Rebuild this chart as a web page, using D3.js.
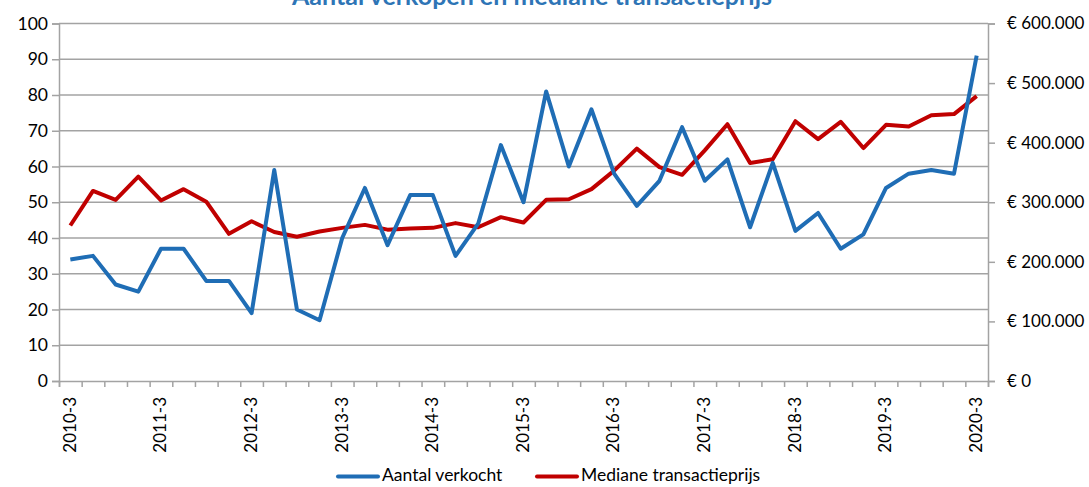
<!DOCTYPE html>
<html>
<head>
<meta charset="utf-8">
<script src="https://cdn.jsdelivr.net/npm/d3@7"></script>
<style>
  body { margin: 0; background: #fff; }
  text { font-family: Lato, "Open Sans", sans-serif; fill: #000; }
</style>
</head>
<body>
<div id="chart"></div>
<script>
// quarters
var quarters = [
  "2010-3", "2010-4", "2011-1", "2011-2",
  "2011-3", "2011-4", "2012-1", "2012-2",
  "2012-3", "2012-4", "2013-1", "2013-2",
  "2013-3", "2013-4", "2014-1", "2014-2",
  "2014-3", "2014-4", "2015-1", "2015-2",
  "2015-3", "2015-4", "2016-1", "2016-2",
  "2016-3", "2016-4", "2017-1", "2017-2",
  "2017-3", "2017-4", "2018-1", "2018-2",
  "2018-3", "2018-4", "2019-1", "2019-2",
  "2019-3", "2019-4", "2020-1", "2020-2",
  "2020-3"
];

// left axis: number of sales
var aantalVerkocht = [
  34, 35, 27, 25, 37, 37, 28, 28, 19, 59,
  20, 17, 40, 54, 38, 52, 52, 35, 44, 66,
  50, 81, 60, 76, 58, 49, 56, 71, 56, 62,
  43, 61, 42, 47, 37, 41, 54, 58, 59, 58,
  91
];

// right axis: median price (euro)
var medianePrijs = [
  261000, 319000, 304000, 343000, 303000, 322000, 301000, 247000, 268000, 250000,
  242000, 251000, 257000, 262000, 254000, 256000, 257000, 265000, 258000, 275000,
  266000, 304000, 305000, 322000, 353000, 390000, 359000, 346000, 387000, 431000,
  366000, 372000, 436000, 406000, 435000, 391000, 430000, 427000, 446000, 448000,
  478000
];

var leftTicks = [0, 10, 20, 30, 40, 50, 60, 70, 80, 90, 100];
var rightTicks = [0, 100000, 200000, 300000, 400000, 500000, 600000];
var seriesNames = ["Aantal verkocht", "Mediane transactieprijs"];
var title = "Aantal verkopen en mediane transactieprijs";

var W = 1089, H = 487;
var plotL = 59, plotR = 988, plotT = 23.5, plotB = 381;
var blue = "#1f6db5", red = "#c00000", grid = "#a3a3a3";

var svg = d3.select("#chart").append("svg")
  .attr("width", W)
  .attr("height", H);

var x = d3.scaleBand().domain(quarters).range([plotL, plotR]).padding(0);
var xEdge = d3.scaleLinear().domain([0, quarters.length]).range([plotL, plotR]);
var yL = d3.scaleLinear().domain([0, 100]).range([plotB, plotT]);
var yR = d3.scaleLinear().domain([0, 600000]).range([plotB, plotT]);

function cx(d) { return x(d) + x.bandwidth() / 2; }

// gridlines + left axis
var leftAxis = svg.append("g")
  .attr("transform", "translate(" + plotL + ",0)")
  .call(d3.axisLeft(yL).tickValues(leftTicks).tickSize(7).tickPadding(4));
leftAxis.select(".domain").attr("stroke", grid).attr("stroke-width", 1.5);
leftAxis.selectAll(".tick line").attr("stroke", grid).attr("stroke-width", 1.5);
leftAxis.selectAll(".tick text").style("font-size", "17.5px").attr("fill", "#000");

svg.append("g").selectAll("line")
  .data(leftTicks.filter(function(d) { return d > 0; }))
  .enter().append("line")
  .attr("x1", plotL).attr("x2", plotR)
  .attr("y1", function(d) { return yL(d); })
  .attr("y2", function(d) { return yL(d); })
  .attr("stroke", grid)
  .attr("stroke-width", 1.5);

// right axis
var rightAxis = svg.append("g")
  .attr("transform", "translate(" + plotR + ",0)")
  .call(d3.axisRight(yR).tickValues(rightTicks).tickSize(7).tickPadding(12)
    .tickFormat(function(d) { return "€ " + d3.format(",")(d).replace(/,/g, "."); }));
rightAxis.select(".domain").attr("stroke", grid).attr("stroke-width", 1.5);
rightAxis.selectAll(".tick line").attr("stroke", grid).attr("stroke-width", 1.5);
rightAxis.selectAll(".tick text").style("font-size", "17px").attr("fill", "#000");

// x axis with ticks between categories
var bottomAxis = svg.append("g")
  .attr("transform", "translate(0," + plotB + ")")
  .call(d3.axisBottom(xEdge).ticks(quarters.length).tickSize(6).tickFormat(""));
bottomAxis.select(".domain").attr("stroke", grid).attr("stroke-width", 1.5);
bottomAxis.selectAll(".tick line").attr("stroke", grid).attr("stroke-width", 1.5);

svg.append("g").selectAll("text")
  .data(quarters.filter(function(d, i) { return i % 4 === 0; }))
  .enter().append("text")
  .attr("transform", function(d) { return "translate(" + (cx(d) + 1) + "," + (plotB + 16) + ") rotate(-90)"; })
  .attr("text-anchor", "end")
  .attr("dominant-baseline", "middle")
  .style("font-size", "17px")
  .text(function(d) { return d; });

// lines
var lineL = d3.line()
  .x(function(d, i) { return cx(quarters[i]); })
  .y(function(d) { return yL(d); });
var lineR = d3.line()
  .x(function(d, i) { return cx(quarters[i]); })
  .y(function(d) { return yR(d); });

svg.append("path")
  .datum(medianePrijs)
  .attr("d", lineR)
  .attr("fill", "none")
  .attr("stroke", red)
  .attr("stroke-width", 4)
  .attr("stroke-linejoin", "round");

svg.append("path")
  .datum(aantalVerkocht)
  .attr("d", lineL)
  .attr("fill", "none")
  .attr("stroke", blue)
  .attr("stroke-width", 4)
  .attr("stroke-linejoin", "round");

// title (partly cut at top like the original)
svg.append("text")
  .attr("x", 532)
  .attr("y", 5)
  .attr("text-anchor", "middle")
  .style("font-size", "25px")
  .style("font-weight", "bold")
  .style("fill", "#2e75b6")
  .text(title);

// legend
var legend = [
  { name: seriesNames[0], color: blue, x: 338 },
  { name: seriesNames[1], color: red, x: 537 }
];
var lg = svg.append("g").selectAll("g")
  .data(legend)
  .enter().append("g")
  .attr("transform", function(d) { return "translate(" + d.x + ",476.5)"; });
lg.append("line")
  .attr("x1", 0).attr("x2", 40)
  .attr("stroke", function(d) { return d.color; })
  .attr("stroke-width", 4)
  .attr("stroke-linecap", "round");
lg.append("text")
  .attr("x", 44)
  .attr("dominant-baseline", "middle")
  .style("font-size", "17.5px")
  .text(function(d) { return d.name; });
</script>
</body>
</html>
